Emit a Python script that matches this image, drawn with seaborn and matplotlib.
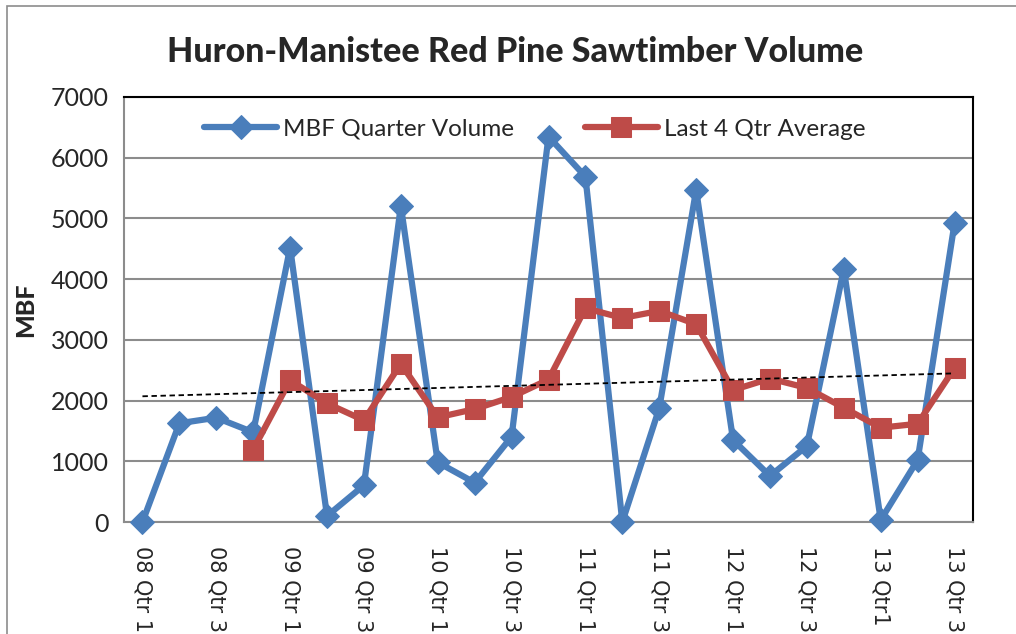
import numpy as np
import pandas as pd
import matplotlib
matplotlib.use("Agg")
import matplotlib.pyplot as plt
import seaborn as sns

# quarters 08 Qtr 1 .. 13 Qtr 3
quarters = ['08 Qtr 1', '08 Qtr 2', '08 Qtr 3', '08 Qtr 4',
            '09 Qtr 1', '09 Qtr 2', '09 Qtr 3', '09 Qtr 4',
            '10 Qtr 1', '10 Qtr 2', '10 Qtr 3', '10 Qtr 4',
            '11 Qtr 1', '11 Qtr 2', '11 Qtr 3', '11 Qtr 4',
            '12 Qtr 1', '12 Qtr 2', '12 Qtr 3', '12 Qtr 4',
            '13 Qtr1', '13 Qtr 2', '13 Qtr 3']

quarter_volume = [0, 1626, 1718, 1478, 4519, 99, 605, 5206, 983, 648, 1405, 6348,
                  5689, 0, 1873, 5470, 1351, 758, 1252, 4168, 33, 1021, 4921]

last4_avg = [np.nan, np.nan, np.nan, 1192, 2335, 1953, 1675, 2607, 1723, 1860, 2060,
             2346, 3522, 3360, 3477, 3258, 2173, 2363, 2208, 1882, 1553, 1618, 2536]

blue = '#4A7EBB'
red = '#BE4B48'

df = pd.DataFrame({'pos': np.arange(len(quarters)), 'quarter': quarters,
                   'MBF Quarter Volume': quarter_volume,
                   'Last 4 Qtr Average': last4_avg})

sns.set_style('white')
plt.rcParams['font.family'] = ['Lato', 'DejaVu Sans']

fig = plt.figure(figsize=(10.16, 6.34), dpi=100)
ax = fig.add_axes([124 / 1016, 1 - 522 / 634, (973 - 124) / 1016, (522 - 97) / 634])

# chart area border
fig.patches.append(plt.Rectangle((7 / 1016, -0.1), 1.2, 1 - 6 / 634 + 0.1,
                                 transform=fig.transFigure, fill=False,
                                 edgecolor='#8c8c8c', linewidth=1.2, zorder=0))

sns.lineplot(data=df, x='pos', y='MBF Quarter Volume', ax=ax, color=blue,
             linewidth=4.5, marker='D', markersize=12, markeredgecolor=blue,
             label='MBF Quarter Volume', zorder=3, clip_on=False)
sns.lineplot(data=df.dropna(), x='pos', y='Last 4 Qtr Average', ax=ax, color=red,
             linewidth=4.5, marker='s', markersize=15, markeredgecolor=red,
             label='Last 4 Qtr Average', zorder=4, clip_on=False)

# linear trendline of the moving average
valid = df.dropna()
coef = np.polyfit(valid['pos'], valid['Last 4 Qtr Average'], 1)
tx = np.array([0, len(quarters) - 1])
ax.plot(tx, np.polyval(coef, tx), color='black', linestyle=(0, (3, 2)),
        linewidth=1.3, zorder=5)

ax.set_xlim(-0.5, len(quarters) - 0.5)
ax.set_ylim(0, 7000)
ax.set_yticks(range(0, 7001, 1000))
ax.yaxis.grid(True, color='#8c8c8c', linewidth=1.5)
ax.set_axisbelow(True)

ax.set_xticks(df['pos'][::2])
ax.set_xticklabels(df['quarter'][::2], rotation=-90, fontsize=15,
                   family='DejaVu Sans', va='top')
ax.set_xticks(list(df['pos'][1:]) + [len(quarters) - 0.5], minor=True)
ax.tick_params(axis='x', which='major', length=0, pad=17)
ax.tick_params(axis='x', which='minor', length=6, color='#8c8c8c', width=1.2)
ax.tick_params(axis='y', length=5, color='#8c8c8c', labelsize=18, pad=6)

for s in ['left', 'bottom']:
    ax.spines[s].set_color('#8c8c8c')
    ax.spines[s].set_linewidth(1.5)
for s in ['top', 'right']:
    ax.spines[s].set_color('black')
    ax.spines[s].set_linewidth(1.5)

ax.set_xlabel('')
ax.set_ylabel('MBF', fontsize=18, fontweight='black', labelpad=10)

fig.suptitle('Huron-Manistee Red Pine Sawtimber Volume', x=515 / 1016, y=1 - 52 / 634,
             va='center', fontsize=24.5, fontweight='black')

leg = ax.legend(loc='upper center', bbox_to_anchor=(0.484, 1.0), ncol=2, frameon=False,
                fontsize=17.5, handlelength=3.0, columnspacing=2.9, handletextpad=0.25)

fig.savefig('out.png', dpi=100)
